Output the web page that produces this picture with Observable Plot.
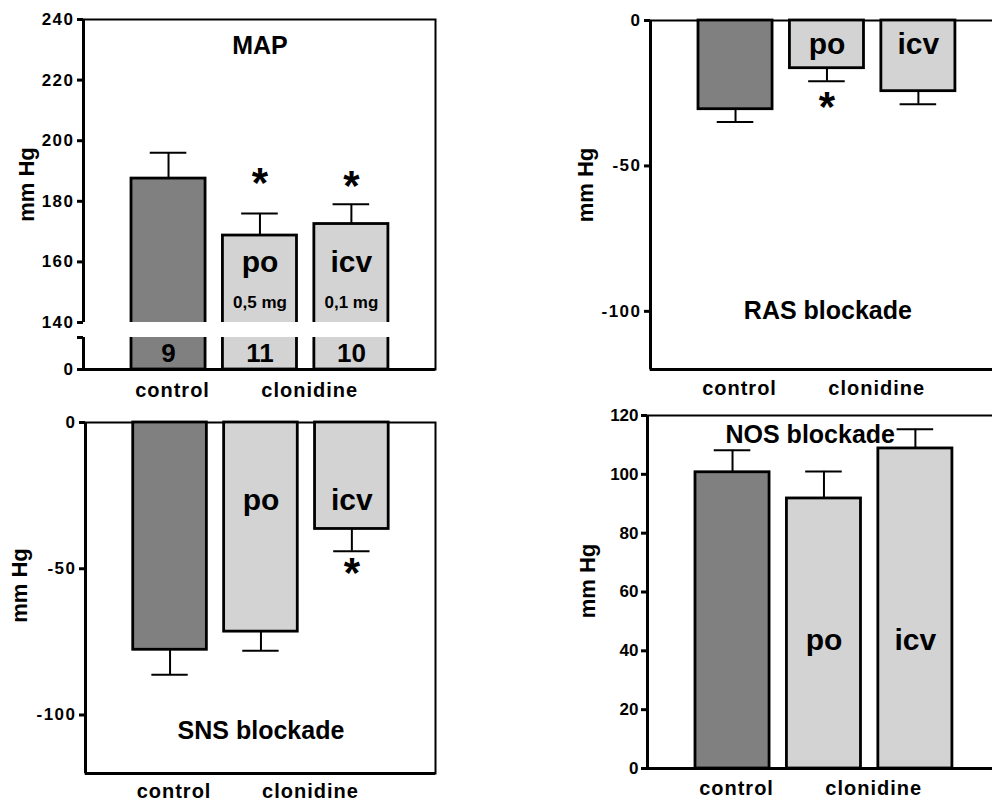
<!DOCTYPE html>
<html><head><meta charset="utf-8">
<script src="https://cdn.jsdelivr.net/npm/d3@7"></script>
<script src="https://cdn.jsdelivr.net/npm/@observablehq/plot@0.6"></script>
<style>
body{margin:0;background:#fff;}
#wrap{position:relative;width:992px;height:801px;overflow:hidden;background:#fff;}
#wrap svg{position:absolute;}
</style></head><body><div id="wrap"></div>
<script>
// ---------- data ----------
const groups = ["control", "po", "icv"];
const groupX = [1, 2, 3];
const barColors = ["#808080", "#d3d3d3", "#d3d3d3"];
const catLabels = ["control", "clonidine"];
const catX = [1, 2.5];
const yLabel = "mm Hg";
const routeLabels = ["po", "icv"];
const routeX = [2, 3];

// MAP (broken axis)
const mapMean = [187.5, 168.7, 172.5];
const mapErrEnd = [196, 176, 179];
const mapN = ["9", "11", "10"];
const mapDose = ["0,5 mg", "0,1 mg"];
const mapTicks = [0, 140, 160, 180, 200, 220, 240];
const mapBreak = [10, 140];
const mapStarX = [2, 3];
const mapStarY = [187.5, 186.5];

// RAS blockade
const rasMean = [-30.5, -16.4, -24.3];
const rasErrEnd = [-34.9, -20.9, -28.8];
const rasStarX = [2];
const rasStarY = [-28.3];

// SNS blockade
const snsMean = [-77.7, -71.5, -36.4];
const snsErrEnd = [-86.2, -78, -44];
const snsStarX = [3];
const snsStarY = [-50];

// NOS blockade
const nosMean = [100.7, 91.8, 108.8];
const nosErrEnd = [108.2, 101, 115.3];

const negTicks = [0, -50, -100];
const nosTicks = [0, 20, 40, 60, 80, 100, 120];

// ---------- drawing ----------
const xDomain = [0.07, 3.92];
const hw = 0.405, capHw = 0.2;
const FONT = "'Liberation Sans', Arial, Helvetica, sans-serif";

// broken MAP axis: lower segment 0..10 gets 32 px, gap 15 px, upper 140..240 gets 303 px
function mapTransform(v) {
  if (v <= mapBreak[0]) return v * 3.2;
  if (v < mapBreak[1]) return 32 + (v - mapBreak[0]) * 15 / (mapBreak[1] - mapBreak[0]);
  return 47 + (v - mapBreak[1]) * 3.03;
}

function txt(labels, xs, ys, size, extra = {}) {
  const d = labels.map((t, i) => ({t, x: xs[i], y: ys[i]}));
  return Plot.text(d, {x: "x", y: "y", text: "t", fontSize: size, fontWeight: "bold", fill: "black", ...extra});
}

function makePanel(o) {
  const data = groups.map((g, i) => ({g, x: groupX[i], mean: o.means[i], end: o.ends[i], fill: barColors[i]}));
  const tf = o.y.transform || (v => v);
  const tickPos = o.ticks.map(tf);
  const tickFormat = d => {
    const v = o.ticks[tickPos.indexOf(d)];
    return o.hiddenTicks && o.hiddenTicks.includes(v) ? "" : String(v);
  };
  const marks = [
    Plot.frame({stroke: "black", strokeWidth: 2}),
    Plot.ruleX([xDomain[0]], {stroke: "black", strokeWidth: 3}),
    Plot.ruleY([o.bottom], {stroke: "black", strokeWidth: 3}),
    Plot.rect(data, {x1: d => d.x - hw, x2: d => d.x + hw, y1: () => 0, y2: "mean", fill: "fill", stroke: "black", strokeWidth: 2.8}),
    Plot.ruleX(data, {x: "x", y1: "mean", y2: "end", stroke: "black", strokeWidth: 2}),
    Plot.ruleY(data, {x1: d => d.x - capHw, x2: d => d.x + capHw, y: "end", stroke: "black", strokeWidth: 2}),
  ];
  if (o.gap) {
    marks.push(Plot.rect([o.gap], {x1: () => xDomain[0], x2: () => xDomain[1], y1: d => d[0], y2: d => d[1], fill: "white", insetLeft: -5, insetRight: 2}));
  }
  marks.push(
    Plot.axisY({ticks: tickPos, tickFormat, tickSize: 6, tickPadding: 3, fontSize: 17, fontWeight: "bold", strokeWidth: 3, label: null}),
    Plot.axisX({ticks: catX, tickFormat: d => catLabels[catX.indexOf(d)], tickSize: 0, tickPadding: o.catPad, fontSize: 20, fontWeight: "bold", dx: 4, label: null}),
    Plot.text([yLabel], {text: d => d, frameAnchor: "top-left", textAnchor: "middle", lineAnchor: "middle", dx: o.labelX - o.marginLeft, dy: o.labelY - o.marginTop, rotate: -90, fontSize: 22, fontWeight: "bold", fill: "black"}),
    ...o.extra
  );
  const svg = Plot.plot({
    width: o.width, height: o.height,
    marginLeft: o.marginLeft, marginRight: 5, marginTop: o.marginTop, marginBottom: o.marginBottom,
    x: {domain: xDomain},
    y: o.y,
    color: {type: "identity"},
    style: {fontFamily: FONT, background: "transparent", color: "black", overflow: "visible"},
    marks
  });
  svg.style.left = o.left + "px";
  svg.style.top = o.top + "px";
  d3.select(svg).selectAll('g[aria-label="y-axis tick label"] text').style("letter-spacing", o.tickSpacing + "px");
  d3.select(svg).selectAll('g[aria-label="x-axis tick label"] text').style("letter-spacing", "1px");
  document.getElementById("wrap").appendChild(svg);
}

// Panel 1: MAP
makePanel({
  left: 0, top: 0, width: 440, height: 400, marginLeft: 83, marginTop: 19, marginBottom: 31,
  y: {transform: mapTransform, domain: [mapTransform(0), mapTransform(240)]},
  means: mapMean, ends: mapErrEnd, bottom: 0,
  gap: mapBreak,
  ticks: [...mapTicks, mapBreak[0]],
  hiddenTicks: [mapBreak[0]],
  tickSpacing: 1.5, catPad: 13, labelX: 26, labelY: 184,
  extra: [
    txt(["MAP"], [2.0], [231.3], 25),
    txt(routeLabels, routeX, [160, 160], 30),
    txt(mapDose, routeX, [146.6, 146.6], 17),
    txt(mapN, groupX, [5, 5, 5], 26),
    txt(mapStarX.map(() => "*"), mapStarX, mapStarY, 42, {dy: 5})
  ]
});

// Panel 2: RAS blockade
makePanel({
  left: 540, top: 0, width: 467, height: 400, marginLeft: 110, marginTop: 20, marginBottom: 31,
  y: {domain: [-120, 0]},
  means: rasMean, ends: rasErrEnd, bottom: -120,
  ticks: negTicks, tickSpacing: 1.5, catPad: 11, labelX: 45, labelY: 184.5,
  extra: [
    txt(["RAS blockade"], [2.01], [-100], 25),
    txt(routeLabels, routeX, [-8.2, -8.2], 30),
    txt(rasStarX.map(() => "*"), rasStarX, rasStarY, 42, {dy: 5})
  ]
});

// Panel 3: SNS blockade
makePanel({
  left: 0, top: 400, width: 440, height: 401, marginLeft: 85, marginTop: 22, marginBottom: 28,
  y: {domain: [-120, 0]},
  means: snsMean, ends: snsErrEnd, bottom: -120,
  ticks: negTicks, tickSpacing: 1.5, catPad: 10, labelX: 19, labelY: 185,
  extra: [
    txt(["SNS blockade"], [2.0], [-105.3], 25),
    txt(routeLabels, routeX, [-26.5, -26.5], 30),
    txt(snsStarX.map(() => "*"), snsStarX, snsStarY, 42, {dy: 5})
  ]
});

// Panel 4: NOS blockade
makePanel({
  left: 540, top: 400, width: 464, height: 401, marginLeft: 107, marginTop: 15, marginBottom: 33,
  y: {domain: [0, 120]},
  means: nosMean, ends: nosErrEnd, bottom: 0,
  ticks: nosTicks, tickSpacing: 0, catPad: 12, labelX: 47, labelY: 180.5,
  extra: [
    txt(["NOS blockade"], [1.85], [113.3], 25),
    txt(routeLabels, routeX, [43.5, 43.5], 30)
  ]
});
</script>
</body></html>
